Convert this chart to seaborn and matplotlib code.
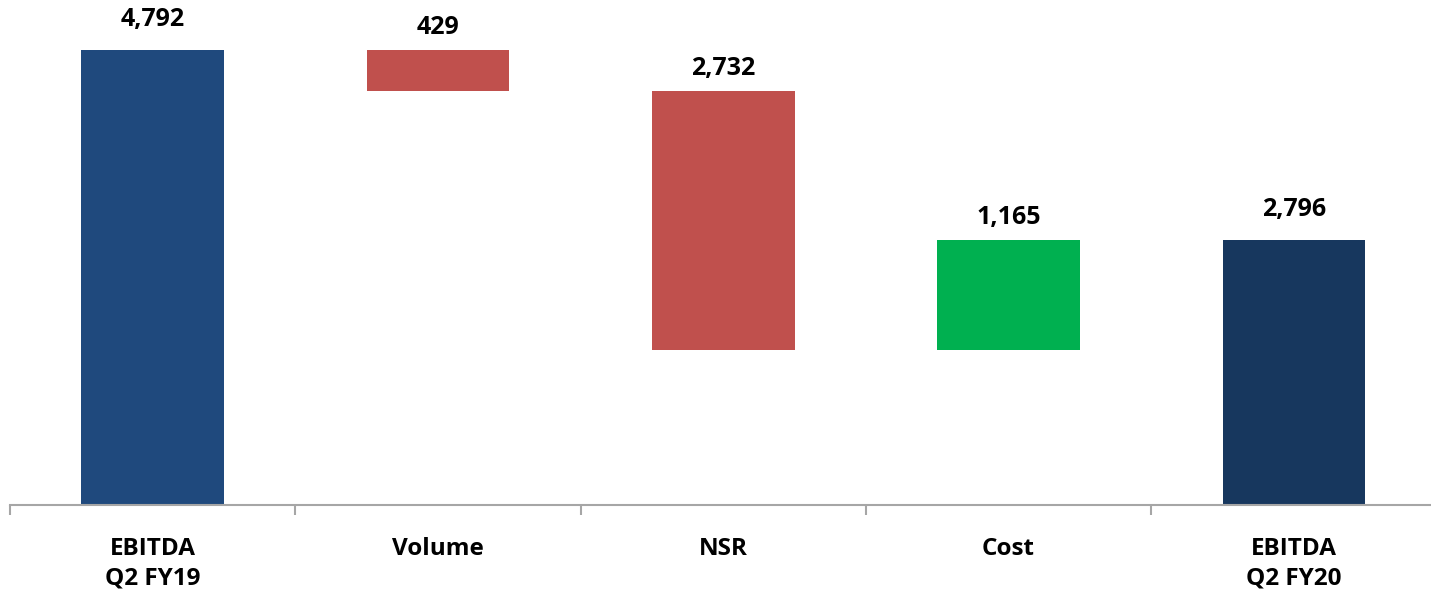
import matplotlib
matplotlib.use("Agg")
import matplotlib.pyplot as plt
import seaborn as sns

# waterfall data
categories = ["EBITDA\nQ2 FY19", "Volume", "NSR", "Cost", "EBITDA\nQ2 FY20"]
changes = [4792, -429, -2732, 1165, 2796]
is_total = [True, False, False, False, True]
labels = ["4,792", "429", "2,732", "1,165", "2,796"]
colors = ["#1F497D", "#C0504D", "#C0504D", "#00B050", "#17375E"]


def waterfall(changes, is_total):
    bottoms, heights, tops = [], [], []
    running = 0
    for v, tot in zip(changes, is_total):
        if tot:
            bottoms.append(0)
            heights.append(v)
            running = v
        else:
            start = running
            running = running + v
            bottoms.append(min(start, running))
            heights.append(abs(v))
        tops.append(bottoms[-1] + heights[-1])
    return bottoms, heights, tops


bottoms, heights, tops = waterfall(changes, is_total)

sns.set_style("white")
plt.rcParams["font.family"] = ["Open Sans", "DejaVu Sans"]

fig = plt.figure(figsize=(14.31, 5.94), dpi=100)
ax = fig.add_axes([10 / 1431, 89 / 594, 1426.5 / 1431, 505 / 594])

sns.barplot(x=categories, y=heights, bottom=bottoms, width=0.5,
            errorbar=None, color=colors[0], saturation=1, ax=ax)
for patch, c in zip(ax.patches, colors):
    patch.set_facecolor(c)
    patch.set_edgecolor("none")

for i, (top, lab, tot) in enumerate(zip(tops, labels, is_total)):
    off = 22 if tot else 16
    ax.annotate(lab, (i, top), xytext=(0, off), textcoords="offset points",
                ha="center", va="center", fontsize=18, fontweight="bold",
                color="black")

ax.set_xlim(-0.5, 4.5)
ax.set_ylim(0, 5321)
ax.set_yticks([])
ax.set_ylabel("")
for s in ["top", "right", "left"]:
    ax.spines[s].set_visible(False)
ax.spines["bottom"].set_color("#A6A6A6")
ax.spines["bottom"].set_linewidth(1.5)

ax.set_xticks(range(len(categories)))
ax.set_xticklabels(categories, fontsize=17.5, fontweight="bold",
                   linespacing=1.3, color="black")
ax.tick_params(axis="x", which="major", length=0, pad=23)
ax.set_xticks([i - 0.5 for i in range(len(categories) + 1)], minor=True)
ax.tick_params(axis="x", which="minor", length=7, width=1.5,
               color="#A6A6A6", direction="out", bottom=True)

fig.savefig("out.png", dpi=100)
